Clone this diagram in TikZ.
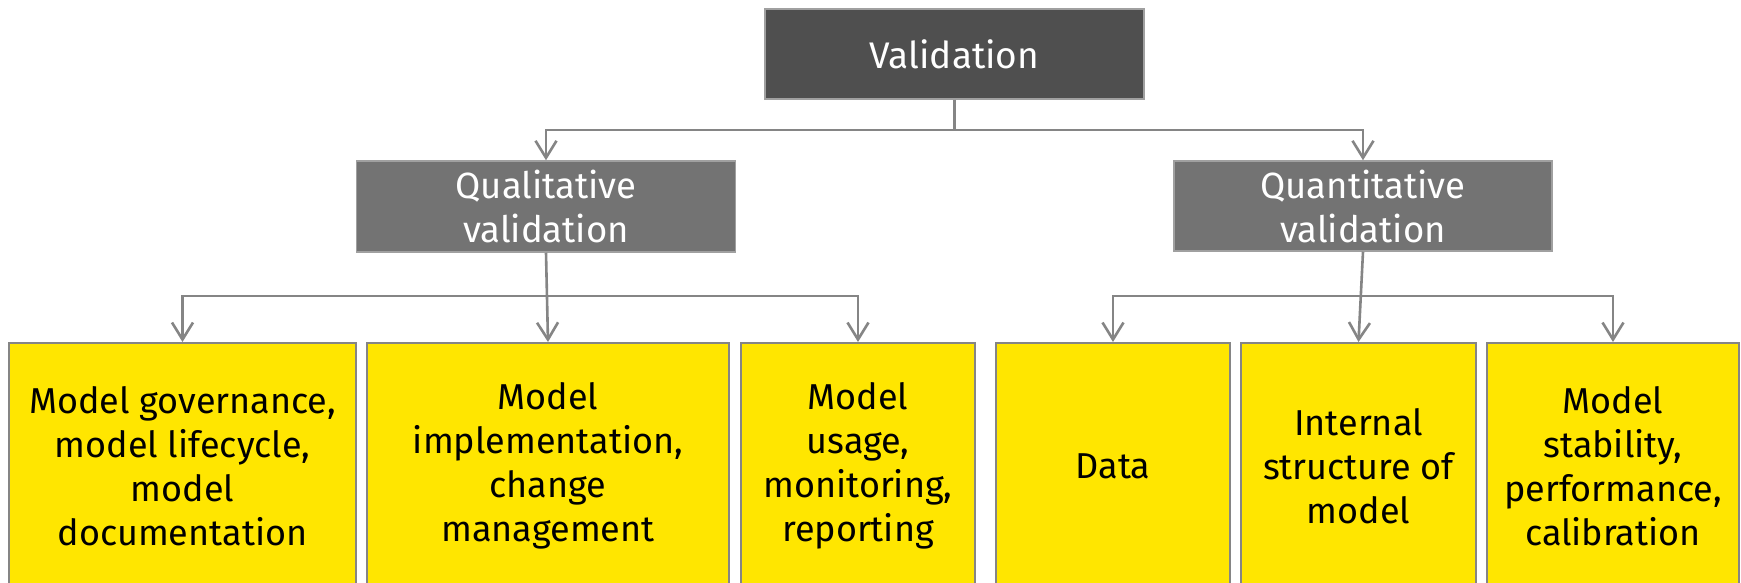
\documentclass[tikz,border=0pt]{standalone}
\usepackage{fontspec}
\setmainfont{Fira Sans}
\usetikzlibrary{arrows.meta}
\definecolor{eyyellow}{HTML}{FFE600}
\definecolor{darkbox}{HTML}{4F4F4F}
\definecolor{midbox}{HTML}{737373}
\definecolor{linegray}{HTML}{858585}
\definecolor{bordergray}{HTML}{A0A0A0}
\tikzset{
  topbox/.style={rectangle, fill=darkbox, draw=bordergray, line width=1.5pt, inner sep=0pt, text=white, align=center, font=\fontsize{37}{44}\selectfont},
  midboxs/.style={rectangle, fill=midbox, draw=bordergray, line width=1.5pt, inner sep=0pt, text=white, align=center, font=\fontsize{36.5}{44}\selectfont},
  leafbox/.style={rectangle, fill=eyyellow, draw=linegray, line width=2pt, inner sep=0pt, text=black, align=center, minimum height=246pt, font=\fontsize{36}{44}\selectfont},
  conn/.style={draw=linegray, line width=2.6pt},
  arr/.style={conn, -{Straight Barb[length=17pt,width=21pt,line width=2.6pt]}}
}
\begin{document}
\begin{tikzpicture}[x=1pt,y=-1pt]
\clip (0,0) rectangle (1741,583);
\fill[white] (0,0) rectangle (1741,583);
\node[topbox, minimum width=379pt, minimum height=90pt] (top) at (954.5,54) {Validation};
\node[midboxs, minimum width=379pt, minimum height=91pt] (qual) at (546,206.5) {Qualitative\\validation};
\node[midboxs, minimum width=378pt, minimum height=90pt] (quant) at (1363,206) {Quantitative\\validation};
\node[leafbox, minimum width=347pt] (b1) at (182.5,466) {Model governance,\\model lifecycle,\\model\\documentation};
\node[leafbox, minimum width=362pt] (b2) at (548,466) {Model\\implementation,\\change\\management};
\node[leafbox, minimum width=234pt] (b3) at (858,466) {Model\\usage,\\monitoring,\\reporting};
\node[leafbox, minimum width=234pt] (b4) at (1113,466) {Data};
\node[leafbox, minimum width=235pt] (b5) at (1358.5,466) {Internal\\structure of\\model};
\node[leafbox, minimum width=252pt] (b6) at (1613,466) {Model\\stability,\\performance,\\calibration};
\coordinate (j1) at (954.5,130);
\draw[conn] (top.south) -- (j1);
\draw[arr] (j1) -| (qual.north);
\draw[arr] (j1) -| (quant.north);
\coordinate (h1) at (547,296);
\coordinate (h2) at (1360,296);
\draw[arr] (qual.south) -- (b2.north);
\draw[arr] (h1) -| (b1.north);
\draw[arr] (h1) -| (b3.north);
\draw[arr] (quant.south) -- (b5.north);
\draw[arr] (h2) -| (b4.north);
\draw[arr] (h2) -| (b6.north);
\end{tikzpicture}
\end{document}
